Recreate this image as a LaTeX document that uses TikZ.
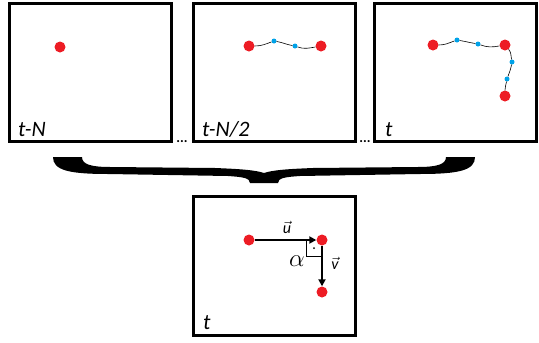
\documentclass[tikz,border=0pt]{standalone}
\usepackage{fontspec}
\setmainfont{Carlito}
\usetikzlibrary{positioning, arrows.meta}
\definecolor{dotred}{RGB}{237,28,36}
\definecolor{dotblue}{RGB}{0,162,232}

\begin{document}
\begin{tikzpicture}[x=1pt, y=-1pt,
    frame/.style={rectangle, draw, line width=3pt, minimum width=162pt, minimum height=138.5pt, inner sep=0pt},
    keypt/.style={circle, fill=dotred, inner sep=0pt, minimum size=11pt},
    midpt/.style={circle, fill=dotblue, inner sep=0pt, minimum size=5pt},
    link/.style={line width=0.6pt},
    stamp/.style={font=\fontsize{22}{24}\selectfont\itshape, anchor=base west, inner sep=0pt},
    gap/.style={font=\fontsize{14}{14}\selectfont\bfseries, anchor=base, inner sep=0pt},
    vecarrow/.style={-{Triangle[length=7pt,width=7pt]}, line width=2.8pt}
]
    \useasboundingbox (0,0) rectangle (539,343);

    % Frames of the sequence
    \node[frame] (first) at (90,72.5) {};
    \node[frame] (half) at (274,72.5) {};
    \node[frame] (last) at (455.5,72.5) {};
    \node[stamp] (firstlbl) at (18,136) {t-N};
    \node[stamp] (halflbl) at (202,136) {t-N/2};
    \node[stamp] (lastlbl) at (385,136) {t};
    \node[gap] (gapa) at (182,142) {...};
    \node[gap] (gapb) at (365,142) {...};

    % Frame t-N
    \node[keypt] (fa) at (60,47) {};

    % Frame t-N/2
    \node[keypt] (ha) at (249,46) {};
    \node[midpt] (hb) at (274,41) {};
    \node[midpt] (hc) at (295,46) {};
    \node[keypt] (hd) at (321,46) {};
    \draw[link] (ha) to[out=0,in=200] (hb);
    \draw[link] (hb) to[out=-10,in=170] (hc);
    \draw[link] (hc) to[out=-20,in=190] (hd);

    % Frame t
    \node[keypt] (la) at (433,45) {};
    \node[midpt] (lb) at (457,40) {};
    \node[midpt] (lc) at (478,44) {};
    \node[keypt] (ld) at (505,45) {};
    \node[midpt] (le) at (512,62) {};
    \node[midpt] (lf) at (507,79) {};
    \node[keypt] (lg) at (505,96) {};
    \draw[link] (la) to[out=0,in=200] (lb);
    \draw[link] (lb) to[out=-10,in=170] (lc);
    \draw[link] (lc) to[out=-20,in=190] (ld);
    \draw[link] (ld) to[out=-50,in=100] (le);
    \draw[link] (le) to[out=-100,in=70] (lf);
    \draw[link] (lf) to[out=-100,in=90] (lg);

    % Curly brace
    \fill (53,157) -- (82,157) .. controls (82,164) and (90,167) .. (110,167)
        -- (215,168) .. controls (240,169) and (255,170) .. (264,173)
        .. controls (273,170) and (288,169) .. (313,168) -- (418,167)
        .. controls (438,167) and (446,164) .. (446,157) -- (475,157)
        .. controls (475,170) and (460,174) .. (420,174) -- (300,176)
        .. controls (285,177) and (278,178) .. (278,183) -- (250,183)
        .. controls (250,178) and (243,177) .. (228,176) -- (108,174)
        .. controls (68,174) and (53,170) .. (53,157) -- cycle;

    % Resulting frame
    \node[frame] (result) at (274,266) {};
    \node[stamp] (resultlbl) at (203,329) {t};
    \node[keypt] (ra) at (249,240) {};
    \node[keypt] (rb) at (322,240) {};
    \node[keypt] (rc) at (322,292) {};
    \draw[line width=0.6pt] ([xshift=-16pt]rb.center) |- ([yshift=-16pt]rb.center);
    \node[circle, fill, inner sep=0pt, minimum size=2pt] (rdot) at (314,248) {};
    \draw[vecarrow] (ra) -- (rb);
    \draw[vecarrow] (rb) -- (rc);
    \node[font=\fontsize{16}{16}\selectfont] (ulbl) at (287,227) {$\vec{\hbox{\itshape u}}$};
    \node[font=\fontsize{16}{16}\selectfont] (vlbl) at (335,263) {$\vec{\hbox{\itshape v}}$};
    \node[font=\fontsize{26}{26}\selectfont] (alphalbl) at (297,261) {$\alpha$};
\end{tikzpicture}
\end{document}
